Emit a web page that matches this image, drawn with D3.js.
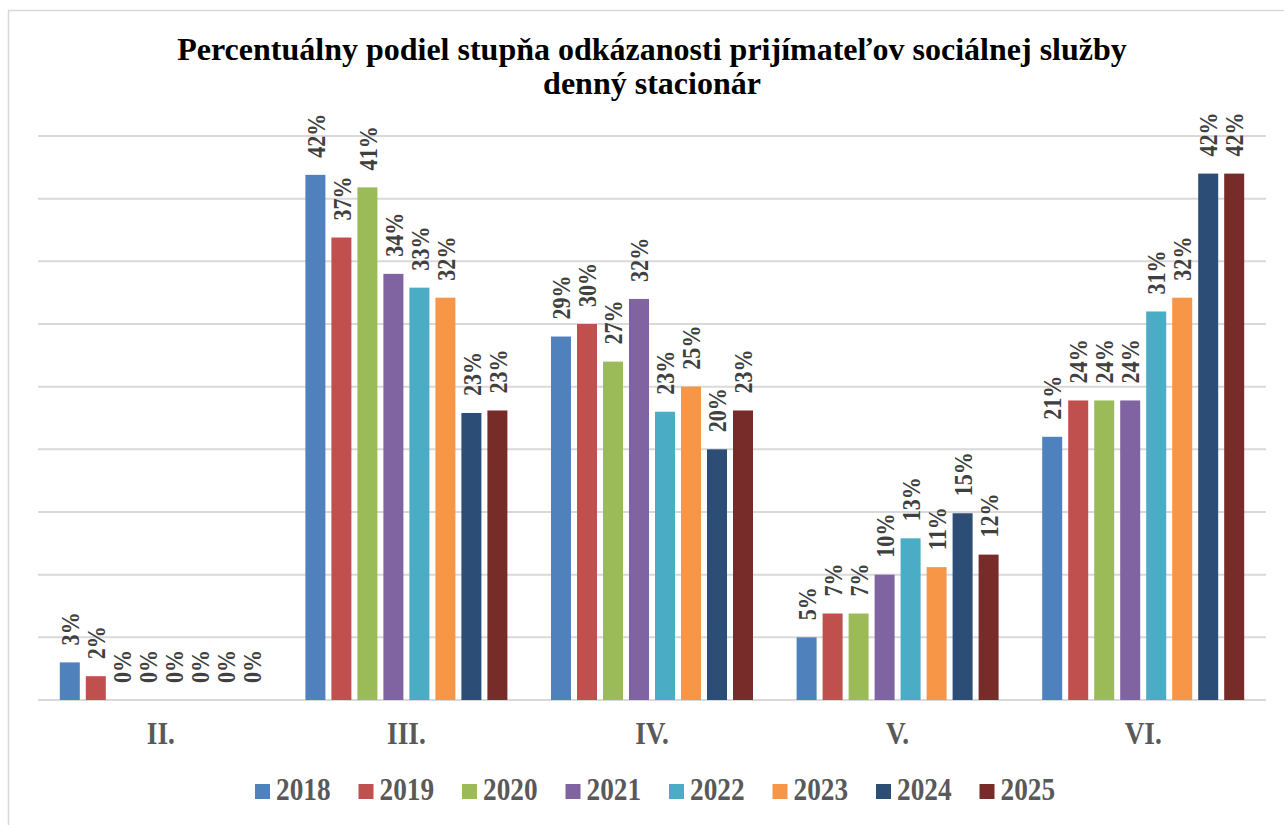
<!DOCTYPE html>
<html>
<head>
<meta charset="utf-8">
<script src="https://cdn.jsdelivr.net/npm/d3@7"></script>
<style>
  body { margin: 0; background: #fff; }
  text { font-family: "Liberation Serif", "Times New Roman", serif; font-weight: bold; }
</style>
</head>
<body>
<div class="chart"></div>
<script>
// kategórie (stupeň odkázanosti) a roky
var categories = ['II.', 'III.', 'IV.', 'V.', 'VI.'];
var years = ['2018', '2019', '2020', '2021', '2022', '2023', '2024', '2025'];

// hodnoty v % pre každý rok (poradie ako categories)
var v2018 = [3.0, 41.9, 29.0, 5.0, 21.0];
var v2019 = [1.9, 36.9, 30.0, 6.9, 23.9];
var v2020 = [0, 40.9, 27.0, 6.9, 23.9];
var v2021 = [0, 34.0, 32.0, 10.0, 23.9];
var v2022 = [0, 32.9, 23.0, 12.9, 31.0];
var v2023 = [0, 32.1, 25.0, 10.6, 32.1];
var v2024 = [0, 22.9, 20.0, 14.9, 42.0];
var v2025 = [0, 23.1, 23.1, 11.6, 42.0];
var yTicks = [0, 5, 10, 15, 20, 25, 30, 35, 40, 45];

var colors = ['#4F81BD', '#C0504D', '#9BBB59', '#8064A2', '#4BACC6', '#F79646', '#2C4D75', '#772C2A'];
var series = [v2018, v2019, v2020, v2021, v2022, v2023, v2024, v2025];

var width = 1284, height = 825;
var condense = 0.88; // pismo v grafe je uzsie
var svg = d3.select('.chart').append('svg').attr('width', width).attr('height', height);

// ramik grafu
svg.append('rect')
  .attr('x', 8.5).attr('y', 10.5)
  .attr('width', 1300).attr('height', 840)
  .attr('fill', 'none').attr('stroke', '#d9d9d9').attr('stroke-width', 1.5);

var plotLeft = 38, plotRight = 1266, plotTop = 136, plotBottom = 700;

var x0 = d3.scaleBand().domain(categories).range([plotLeft, plotRight]);
var groupW = 208;
var x1 = d3.scaleBand().domain(years).range([0, groupW])
  .paddingInner(6 / 26).paddingOuter(3 / 26);
var y = d3.scaleLinear().domain([0, 45]).range([plotBottom, plotTop]);

// mriezka
svg.append('g').selectAll('line')
  .data(yTicks)
  .enter()
  .append('line')
  .attr('x1', plotLeft).attr('x2', plotRight)
  .attr('y1', d => y(d)).attr('y2', d => y(d))
  .attr('stroke', '#d9d9d9').attr('stroke-width', 2);

// stlpce
var groups = svg.selectAll('.cat')
  .data(categories)
  .enter()
  .append('g')
  .attr('class', 'cat')
  .attr('transform', d => 'translate(' + (x0(d) + (x0.bandwidth() - groupW) / 2) + ',0)');

function rowData(c, ci) {
  return years.map((yr, i) => ({ year: yr, i: i, value: series[i][ci] }));
}

groups.selectAll('rect')
  .data(rowData)
  .enter()
  .append('rect')
  .attr('x', d => x1(d.year))
  .attr('width', x1.bandwidth())
  .attr('y', d => y(d.value))
  .attr('height', d => y(0) - y(d.value))
  .attr('fill', d => colors[d.i]);

// popisky hodnot
groups.selectAll('text')
  .data(rowData)
  .enter()
  .append('text')
  .attr('transform', d => 'translate(' + (x1(d.year) + x1.bandwidth() / 2) + ',' + (y(d.value) - 17) + ') rotate(-90) scale(0.85,1)')
  .attr('dy', '0.35em')
  .attr('font-size', 26)
  .attr('fill', '#404040')
  .text(d => Math.round(d.value) + '%');

// os x
svg.append('g').selectAll('text')
  .data(categories)
  .enter()
  .append('text')
  .attr('transform', d => 'translate(' + (x0(d) + x0.bandwidth() / 2) + ',744) scale(' + condense + ',1)')
  .attr('text-anchor', 'middle')
  .attr('font-size', 31)
  .attr('fill', '#595959')
  .text(d => d);

// nadpis
var title = svg.append('g').attr('fill', '#000').attr('text-anchor', 'middle');
title.append('text').attr('x', 652).attr('y', 60).attr('font-size', 32)
  .text('Percentuálny podiel stupňa odkázanosti prijímateľov sociálnej služby');
title.append('text').attr('x', 652).attr('y', 94).attr('font-size', 32)
  .text('denný stacionár');

// legenda
var legend = svg.append('g').selectAll('g')
  .data(years)
  .enter()
  .append('g')
  .attr('transform', (d, i) => 'translate(' + (255 + i * 103.5) + ',784)');
legend.append('rect')
  .attr('width', 15).attr('height', 15)
  .attr('fill', (d, i) => colors[i]);
legend.append('text')
  .attr('transform', 'translate(21,16) scale(' + condense + ',1)')
  .attr('font-size', 31)
  .attr('fill', '#595959')
  .text(d => d);
</script>
</body>
</html>
